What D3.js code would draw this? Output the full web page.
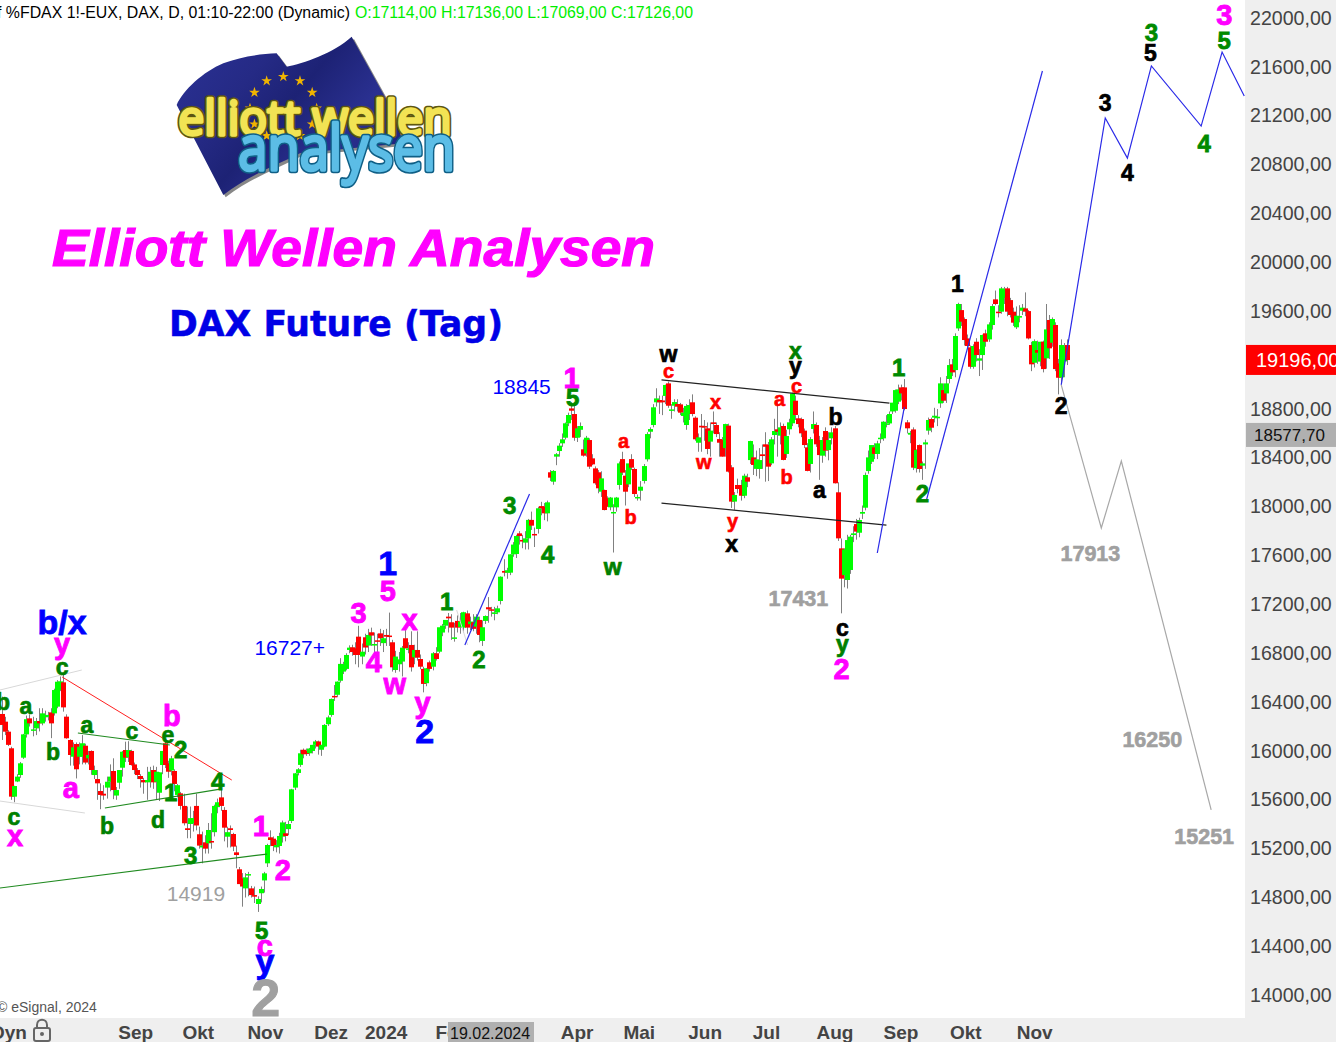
<!DOCTYPE html>
<html><head><meta charset="utf-8">
<script src="https://d3js.org/d3.v7.min.js"></script>
<style>html,body{margin:0;padding:0;background:#fff;overflow:hidden}svg{display:block}text{font-family:"Liberation Sans",Arial,sans-serif}</style>
</head><body><svg id="c" width="1336" height="1042"></svg>
<script>
// open, high, low, close per trading day
const barsAutumn2023 = [
[16293,16435,16080,16203],[16230,16270,16120,16148],[16148,16160,16030,16040],[16012,16025,15590,15616],[15616,15705,15570,15703],[15740,15800,15735,15780],[15793,15900,15770,15889],[15935,16130,15925,16126],[16126,16280,16100,16250],[16257,16290,16190,16216],
[16156,16270,16110,16167],[16175,16260,16120,16235],[16235,16340,16150,16216],[16216,16340,16200,16298],[16266,16320,16230,16285],[16271,16310,16240,16285],[16306,16340,16095,16216],[16298,16500,16280,16489],[16353,16570,16340,16557],[16490,16600,16480,16560],
[16552,16612,16312,16347],[16271,16290,16090,16094],[16080,16085,15870,15957],[15943,16060,15870,16020],[16047,16060,15765,15840],[15943,16060,15880,16025],[15943,16120,15880,16053],[16033,16050,15880,15895],[15930,15990,15880,15957],[15990,15995,15795,15834],
[15793,15870,15760,15834],[15760,15834,15590,15725],[15662,15725,15513,15630],[15640,15710,15590,15625],[15690,15780,15600,15738],[15738,15880,15660,15780],[15826,15930,15595,15670],[15625,15695,15590,15670],[15730,15790,15680,15834],[15853,15990,15780,15984],
[15998,16066,15900,15935],[15938,16070,15900,15998],[15990,16000,15870,15875],[15880,15895,15800,15834],[15834,15850,15760,15793],[15785,15800,15690,15760],[15752,15770,15640,15733],[15733,15860,15590,15752],[15738,15860,15690,15820],[15834,15870,15680,15733],
[15738,15860,15590,15820],[15648,15815,15580,15815],[15875,15990,15800,15990],[16053,16080,15850,15875],[15889,15910,15770,15820],[15830,15950,15790,15930],[15826,15840,15660,15720],[15630,15720,15610,15710],[15643,15655,15510,15540],[15540,15640,15380,15398],
[15357,15535,15275,15343],[15392,15535,15275,15440],[15400,15500,15330,15440],[15540,15640,15340,15380],[15308,15370,15190,15215],[15200,15330,15070,15215],[15242,15300,15150,15190],[15234,15400,15150,15343],[15253,15480,15190,15240],[15325,15550,15290,15540],
[15530,15600,15480,15570],[15610,15680,15500,15540],[15507,15530,15250,15362],[15288,15370,15200,15325],[15357,15380,15200,15343],[15310,15320,15170,15207],[15160,15215,15030,15138],[15021,15040,14900,14900],[14947,14990,14715,14880],[14865,14990,14790,14955],
[14970,15000,14800,14982],[14865,14885,14790,14810],[14810,14880,14745,14797],[14737,14800,14672,14778],[14825,14880,14750,14860],[14930,15000,14830,14988],[15070,15230,15040,15220],[15283,15340,15210,15261],[15272,15290,15170,15212],[15201,15260,15160,15220],
[15212,15320,15150,15294],[15288,15420,15240,15405],[15316,15410,15250,15294],[15350,15420,15300,15392],[15417,15680,15400,15676],[15690,15810,15670,15807],[15810,15850,15790,15840]];
const barsWinter2024 = [
[15876,16000,15860,15971],[16000,16010,15930,15963],[15990,16010,15950,15965],[15971,16015,15950,16010],[15990,16040,15970,16040],[16040,16080,16010,16068],[16068,16075,15960,16026],[16000,16040,15950,16040],[16026,16210,16020,16203],[16209,16280,16195,16265],
[16285,16420,16270,16416],[16441,16530,16400,16430],[16450,16560,16430,16558],[16565,16750,16550,16703],[16640,16720,16620,16700],[16662,16790,16650,16776],[16817,16855,16790,16836],[16839,16860,16770,16800],[16831,16880,16700,16776],[16926,17015,16675,16776],
[16763,16870,16700,16803],[16921,16950,16780,16837],[16853,16990,16800,16940],[16962,17000,16850,16935],[16853,16960,16790,16866],[16896,16950,16800,16885],[16953,16990,16850,16913],[16873,16980,16800,16913],[16940,16990,16850,16926],[16935,17123,16850,16930],
[16880,16900,16640,16675],[16653,16810,16630,16763],[16700,16800,16640,16740],[16722,16850,16600,16836],[16913,16990,16830,16831],[16818,16880,16790,16830],[16858,16970,16640,16675],[16757,16860,16700,16817],[16817,16970,16730,16754],[16743,16780,16660,16680],
[16662,16680,16470,16539],[16545,16670,16520,16667],[16716,16730,16640,16662],[16680,16800,16650,16790],[16790,16840,16730,16743],[16803,16990,16790,17003],[16960,17030,16930,17016],[17016,17060,16990,17063],[17090,17120,16960,17076],[17044,17110,16900,17000],
[16909,17040,16885,16920],[17055,17100,16960,17000],[17005,17120,16950,17050],[17000,17130,16960,17126],[17117,17140,16950,17000],[17028,17090,16980,17050],[17044,17110,16970,16990],[17008,17110,16950,17090],[17063,17090,16880,16940],[16891,17060,16850,17003],
[17055,17100,17030,17095],[17167,17250,17040,17150],[17150,17170,17090,17140],[17112,17170,17060,17125],[17125,17180,17110,17158],[17218,17420,17190,17417],[17464,17560,17420,17450],[17450,17490,17400,17470],[17450,17600,17430,17600],[17600,17700,17580,17680],
[17603,17760,17570,17750],[17772,17790,17680,17750],[17718,17760,17650,17705],[17696,17790,17640,17731],[17731,17890,17640,17882],[17882,17950,17800,17835],[17767,17820,17660,17760],[17808,17990,17770,17977],[17995,18030,17920,17977],[17990,18020,17880,17936],
[17936,18040,17870,18026]];
const barsSpring2024 = [
[18272,18290,18200,18228],[18195,18290,18170,18283],[18400,18430,18330,18420],[18446,18510,18400,18490],[18509,18590,18480,18542],[18555,18680,18540,18673],[18673,18760,18650,18741],[18795,18845,18700,18776],[18749,18845,18530,18555],[18555,18650,18520,18632],
[18620,18680,18560,18651],[18460,18540,18400,18408],[18427,18570,18400,18555],[18536,18550,18300,18318],[18386,18420,18330,18337],[18304,18320,18170,18182],[18272,18290,18100,18141],[18113,18280,18070,18222],[18127,18130,17960,17963],[18060,18075,17990,17990],
[17985,18070,17960,18065],[17935,18010,17615,17947],[17985,18070,17950,18065],[18168,18360,18130,18345],[18380,18440,18250,18269],[18244,18290,18000,18113],[18173,18340,18150,18345],[18380,18420,18290,18310],[18299,18310,18070,18094],[18060,18090,18040,18070],
[18121,18200,18040,18154],[18201,18340,18180,18323],[18378,18600,18360,18585],[18604,18640,18550,18626],[18659,18830,18640,18804],[18845,18960,18810,18877],[18864,18900,18750,18845],[18860,18900,18740,18845],[18897,18990,18830,18987],[19000,19015,18800,18817],
[18780,18830,18710,18787],[18817,18870,18770,18847],[18831,18870,18770,18809],[18828,18840,18740,18760],[18733,18800,18680,18760],[18659,18830,18620,18815],[18749,18870,18700,18823],[18845,18910,18730,18749],[18719,18730,18530,18542],[18514,18590,18440,18558],
[18653,18749,18440,18640],[18650,18700,18530,18640],[18632,18680,18420,18463],[18523,18680,18400,18613],[18681,18770,18590,18667],[18659,18680,18560,18585],[18544,18600,18400,18514],[18536,18560,18400,18400],[18470,18670,18400,18667],[18654,18670,18270,18277],
[18313,18330,17980,18032],[18032,18110,17965,18086],[18168,18220,18100,18135],[18168,18210,18040,18080],[18080,18260,18060,18244],[18231,18260,18150,18195],[18372,18530,18340,18528],[18394,18500,18250,18332],[18300,18450,18240,18378],[18299,18470,18220,18372],
[18419,18500,18300,18405],[18501,18600,18195,18481],[18495,18520,18200,18318],[18345,18560,18330,18542],[18577,18710,18500,18610],[18624,18850,18400,18604],[18572,18680,18500,18640],[18651,18670,18370,18373],[18422,18620,18390,18569],[18624,18710,18580,18681],
[18673,18925,18650,18918],[18858,18900,18700,18741],[18714,18740,18640,18667],[18708,18720,18560,18591],[18613,18630,18470,18495],[18476,18510,18280,18283],[18340,18560,18270,18544],[18627,18770,18590,18667],[18659,18680,18480,18501],[18536,18570,18210,18413],
[18408,18560,18350,18536],[18610,18640,18400,18449],[18454,18600,18370,18536],[18550,18640,18500,18599],[18632,18650,18180,18182]];
const barsAutumn2024 = [
[18108,18190,17710,17731],[17649,17730,17117,17401],[17430,17650,17330,17640],[17390,17760,17320,17717],[17472,17760,17440,17745],[17758,17830,17700,17772],[17848,17890,17720,17786],[17777,17900,17740,17881],[17933,18000,17890,17947],[17982,18270,17960,18250],
[18282,18450,18260,18394],[18358,18490,18340,18495],[18476,18510,18380,18422],[18422,18530,18380,18509],[18545,18590,18510,18555],[18550,18690,18530,18686],[18667,18740,18640,18672],[18672,18770,18660,18749],[18770,18840,18750,18842],[18776,18950,18760,18945],
[18850,18990,18830,18951],[18967,18990,18860,18918],[18967,19035,18780,18790],[18681,18700,18590,18632],[18580,18610,18510,18595],[18623,18640,18290,18310],[18305,18460,18270,18454],[18495,18500,18270,18299],[18326,18360,18210,18345],[18500,18540,18300,18517],
[18613,18720,18580,18700],[18708,18720,18600,18637],[18720,18800,18680,18735],[18714,18790,18650,18727],[18836,19050,18800,19000],[18945,19000,18840,18858],[18918,19060,18840,19000],[19036,19200,19000,19150],[19156,19200,19060,19090],[19109,19410,19050,19388],
[19450,19660,19430,19650],[19600,19650,19470,19505],[19527,19540,19310,19355],[19368,19400,19280,19306],[19295,19310,19120,19136],[19136,19320,19120,19306],[19341,19370,19180,19232],[19186,19280,19060,19205],[19232,19400,19110,19396],[19410,19440,19300,19341],
[19360,19500,19340,19483],[19478,19650,19440,19633],[19688,19760,19640,19650],[19587,19640,19540,19580],[19587,19790,19570,19778],[19700,19790,19650,19770],[19778,19790,19550,19587],[19682,19700,19540,19560],[19587,19620,19470,19497],[19459,19630,19445,19554],
[19543,19640,19500,19551],[19595,19650,19560,19620],[19614,19745,19550,19587],[19592,19600,19360,19368],[19314,19340,19100,19156],[19169,19360,19130,19346],[19273,19350,19160,19251],[19178,19340,19140,19341],[19341,19350,19090,19117],[19205,19650,19120,19442],
[19519,19560,19200,19287],[19333,19540,19300,19527],[19478,19500,19100,19117],[19164,19200,18910,19046],[19049,19360,19000,19314],[19180,19330,19050,19300],[19314,19360,19150,19191]];
// time position of the first and last candle of each block above, in chart-bar units
const blockSpans = [[0,97.5],[98.2,179.6],[180.5,274.4],[275.4,351]];

const priceTicks = [22000,21600,21200,20800,20400,20000,19600,19200,18800,18400,18000,17600,17200,16800,16400,16000,15600,15200,14800,14400,14000];
const monthLabels = ["Sep","Okt","Nov","Dez","2024","Feb","Mär","Apr","Mai","Jun","Jul","Aug","Sep","Okt","Nov"];
const monthBars = [44,64.6,86.7,108.4,126.5,148.3,169.4,189.4,209.9,231.6,251.8,274.4,296.1,317.5,340.2];
const lastPrice = 19196, refPrice = 18577.7;

// wave labels: text, bar number, price
const labelsBlueLarge = [["b/x",19.9,17046],["1",127.2,17529],["2",139.4,16154],["y",86.7,14270]];
const labelsMagenta = [["y",19.9,16870],["a",22.8,15687],["b",56.1,16276],["x",4.4,15294],["1",85.4,15376],["2",92.6,15015],["c",86.7,14393],["3",117.6,17120],["4",122.6,16719],["w",129.5,16538],["5",127.2,17300],["x",134.4,17062],["y",138.7,16386],["1",187.8,19044],["2",276.7,16661],["3",402.8,22016]];
const labelsGreenLetter = [["c",19.9,16678],["b",0.4,16391],["a",8,16358],["b",16.9,15982],["a",28.1,16203],["c",42.9,16154],["e",54.8,16121],["b",34.7,15376],["d",51.5,15425],["c",4,15449],["w",201.3,17500],["x",261.5,19265],["y",277,16865]];
const labelsGreenNum = [["2",59,16006],["1",55.7,15646],["4",71.2,15744],["3",62.3,15130],["5",85.7,14524],["1",146.6,17218],["2",157.2,16743],["3",167.4,18004],["4",179.9,17595],["5",188.1,18888],["1",295.5,19134],["2",303.4,18102],["3",378.8,21877],["4",396.2,20968],["5",402.8,21811]];
const labelsRed = [["c",219.7,19101],["a",204.9,18528],["b",207.2,17906],["x",235.2,18847],["w",231.3,18356],["a",256.3,18872],["b",258.6,18233],["c",261.9,18978],["y",240.8,17870]];
const labelsBlack = [["w",219.7,19240],["y",261.5,19140],["b",274.7,18725],["a",269.4,18127],["x",240.5,17685],["c",277,16997],["1",314.9,19814],["2",349.1,18815],["3",363.6,21296],["4",370.9,20722],["5",378.5,21705]];
const labelsGrayBold = [["17431",262.5,17234],["17913",358.7,17603],["16250",379.1,16080],["15251",396.2,15286]];
const labelsGrayPlain = [["14919",64,14827]];
const labelsBluePlain = [["16727+",94.9,16841],["18845",171.3,18978]];
const labelsGrayHuge = [["2",87,13967]];

// trend lines and projected paths: [bar, price] vertices
const linesRed = [[[19.9,16596],[75.8,15752]]];
const linesGreen = [[[25.1,16137],[55.4,16039]],[[34,15523],[72.5,15679]],[[-0.6,14868],[87.4,15146]]];
const linesLight = [[[-0.6,16489],[26.4,16653]],[[-0.6,15580],[27.4,15482]],[[149.9,17144],[153.5,16858]]];
const linesBlack = [[[217.4,19028],[292.5,18839]],[[217.4,18020],[291.5,17840]]];
const linesBlue = [[[152.6,16858],[173.9,18094]],[[288.5,17611],[297.4,18806]],[[304.7,18045],[342.9,21558]],
 [[349.1,18987],[363.6,21173],[370.9,20845],[378.8,21599],[395.2,21107],[402.1,21713],[409.4,21353]]];
const linesGray = [[[349.1,18987],[362.3,17816],[368.9,18364],[398.5,15507]]];

const blocks = [barsAutumn2023, barsWinter2024, barsSpring2024, barsAutumn2024];
const bars = [].concat(...blocks).map(r=>({o:r[0],h:r[1],l:r[2],c:r[3]}));
const x = d3.scaleLinear().domain([0,351]).range([1.7,1067]);
// candle number -> chart-bar units, block by block
let run=0; const sd=[],sr=[];
blocks.forEach((b,k)=>{sd.push(run,run+b.length-1);sr.push(blockSpans[k][0],blockSpans[k][1]);run+=b.length;});
const slot = d3.scaleLinear().domain(sd).range(sr);
const y = d3.scaleLinear().domain([14000,22000]).range([994,17]);
const svg = d3.select("#c");
const W=1245,H=1018;
const fmt = v=>d3.format(".2f")(v).replace(".",",");

svg.append("rect").attr("width",1336).attr("height",1042).attr("fill","#fff");
const defs = svg.append("defs");
defs.append("clipPath").attr("id","plot").append("rect").attr("width",W).attr("height",H);
const flagGrad = defs.append("linearGradient").attr("id","flag").attr("x1","0").attr("y1","0").attr("x2","1").attr("y2","0.6");
[[0,"#2b3296"],[0.35,"#252a85"],[0.55,"#1d2275"],[0.8,"#2a3090"],[1,"#222780"]].forEach(s=>flagGrad.append("stop").attr("offset",s[0]).attr("stop-color",s[1]));
const blur = defs.append("filter").attr("id","soft").attr("x","-10%").attr("y","-10%").attr("width","120%").attr("height","120%");
blur.append("feGaussianBlur").attr("stdDeviation",1.3);

const plot = svg.append("g").attr("clip-path","url(#plot)");

// logo (flag + wordmark)
const logo = plot.append("g").attr("transform","translate(160,30) scale(0.3333)");
const flagPath = "M50,225 C70,180 130,125 190,100 C240,80 300,72 350,70 L380,110 C430,100 520,70 575,20 L680,210 L700,250 L730,340 L420,370 C340,410 260,440 190,495 Z";
logo.append("path").attr("d",flagPath).attr("fill","#555").attr("transform","translate(7,7)").attr("filter","url(#soft)").attr("opacity",.7);
logo.append("path").attr("d",flagPath).attr("fill","url(#flag)");
d3.range(12).forEach(i=>{
  const a=i*Math.PI/6, cx=370+100*Math.sin(a), cy=235-95*Math.cos(a);
  const star=d3.symbol().type(d3.symbolStar).size(320)();
  logo.append("path").attr("d",star).attr("transform",`translate(${cx},${cy})`).attr("fill","#f0b400");
});
const word=(t,xx,yy,len,fs,fill,dark)=>{
  [[dark,20],[fill,10]].forEach(s=>logo.append("text").text(t).attr("x",xx).attr("y",yy).attr("textLength",len).attr("lengthAdjust","spacingAndGlyphs")
   .attr("font-size",fs).attr("fill",s[0]).attr("stroke",s[0]).attr("stroke-width",s[1]).attr("stroke-linejoin","round").style("font-family","'Open Sans',sans-serif"));
};
word("elliott wellen",55,315,820,140,"#f2e354","#5e5610");
word("analysen",235,420,650,185,"#5cbde6","#0f5f86");

// titles
plot.append("text").text("Elliott Wellen Analysen").attr("x",52).attr("y",266).attr("font-size",51).attr("font-weight","bold").attr("font-style","italic").attr("fill","#ff00ff").attr("stroke","#ff00ff").attr("stroke-width",1.2).attr("textLength",603).attr("lengthAdjust","spacingAndGlyphs");
plot.append("text").text("DAX Future (Tag)").attr("x",169).attr("y",336).attr("font-size",36).attr("font-weight","bold").attr("fill","#0000e6").attr("stroke","#0000e6").attr("stroke-width",.5).attr("textLength",334).attr("lengthAdjust","spacingAndGlyphs").style("font-family","'DejaVu Sans',sans-serif");

// header
plot.append("text").text("f %FDAX 1!-EUX, DAX, D, 01:10-22:00 (Dynamic)").attr("y",18).attr("x",-3).attr("font-size",16).attr("fill","#000").attr("textLength",353).attr("lengthAdjust","spacingAndGlyphs");
plot.append("text").text("O:17114,00 H:17136,00 L:17069,00 C:17126,00").attr("x",355).attr("y",18).attr("font-size",16).attr("fill","#00ee00").attr("textLength",338).attr("lengthAdjust","spacingAndGlyphs");
plot.append("text").text("© eSignal, 2024").attr("x",-3).attr("y",1012).attr("font-size",14).attr("fill","#555");

// candles
const cg = plot.append("g").selectAll("g").data(bars).join("g");
const cx = (d,i)=>Math.round(x(slot(i)));
cg.append("line").attr("x1",cx).attr("x2",cx).attr("y1",d=>y(d.h)).attr("y2",d=>y(d.l)).attr("stroke","#808080").attr("stroke-width",1).attr("transform","translate(.5,0)");
cg.append("rect").attr("x",(d,i)=>cx(d,i)-2).attr("width",5)
 .attr("y",d=>y(Math.max(d.o,d.c))).attr("height",d=>Math.max(1.5,Math.abs(y(d.o)-y(d.c))))
 .attr("fill",d=>d.c>=d.o?"#00ff00":"#ff0000");

// lines
const ln = d3.line().x(d=>x(d[0])).y(d=>y(d[1]));
const drawLines=(set,col,w)=>plot.append("g").selectAll("path").data(set).join("path").attr("d",ln).attr("fill","none").attr("stroke",col).attr("stroke-width",w);
drawLines(linesLight,"#d8d8d8",1);
drawLines(linesRed,"#ff2020",1);
drawLines(linesGreen,"#208a20",1.2);
drawLines(linesBlack,"#222",1.2);
drawLines(linesBlue,"#2a2ae8",1.2);
drawLines(linesGray,"#a8a8a8",1.2);

// wave labels
const drawLabels=(set,col,size,weight,st)=>plot.append("g").selectAll("text").data(set).join("text").text(d=>d[0])
 .attr("x",d=>x(d[1])).attr("y",d=>y(d[2])).attr("text-anchor","middle").attr("dominant-baseline","central")
 .attr("font-size",size).attr("font-weight",weight).attr("fill",col).attr("stroke",st?col:"none").attr("stroke-width",st||0);
drawLabels(labelsBlueLarge,"#0000ff",34,"bold",.8);
drawLabels(labelsMagenta,"#ff00ff",29,"bold",.9);
drawLabels(labelsGreenLetter,"#008000",23,"bold",.7);
drawLabels(labelsGreenNum,"#008a00",24,"bold",.8);
drawLabels(labelsRed,"#ff0000",20,"bold",.6);
drawLabels(labelsBlack,"#000",23,"bold",.7);
drawLabels(labelsGrayBold,"#a0a0a0",21.5,"bold",.6);
drawLabels(labelsGrayPlain,"#a0a0a0",21,"normal",0);
drawLabels(labelsBluePlain,"#0000ff",21,"normal",0);
drawLabels(labelsGrayHuge,"#a0a0a0",52,"bold",1);

// price panel and axis
svg.append("rect").attr("x",W).attr("y",0).attr("width",1336-W).attr("height",1042).attr("fill","#efefef");
svg.append("rect").attr("x",0).attr("y",H).attr("width",1336).attr("height",24).attr("fill","#efefef");
const yAxis = svg.append("g").attr("transform",`translate(${W},1)`).call(d3.axisRight(y).tickValues(priceTicks).tickFormat(fmt).tickSize(0).tickPadding(5));
yAxis.select(".domain").remove();
yAxis.selectAll("text").attr("font-size",19.6).attr("fill","#444").style("font-family",'"Liberation Sans",Arial,sans-serif');

svg.append("rect").attr("x",1246).attr("y",y(lastPrice)-14.5).attr("width",90).attr("height",30).attr("fill","#ff0000");
svg.append("text").text(fmt(lastPrice)).attr("x",1256).attr("y",y(lastPrice)+8).attr("font-size",20).attr("fill","#fff");
svg.append("rect").attr("x",1246).attr("y",y(refPrice)-12).attr("width",90).attr("height",24).attr("fill","#b0b0b0");
svg.append("text").text(fmt(refPrice)).attr("x",1254).attr("y",y(refPrice)+6.5).attr("font-size",17).attr("fill","#111");

// time axis
const xAxis = svg.append("g").attr("transform",`translate(0,${H+1})`).call(d3.axisBottom(x).tickValues(monthBars).tickFormat((d,i)=>monthLabels[i]).tickSize(0).tickPadding(7));
xAxis.select(".domain").remove();
xAxis.selectAll("text").attr("font-size",19).attr("font-weight","bold").attr("fill","#444").style("font-family",'"Liberation Sans",Arial,sans-serif');
svg.append("text").text("Dyn").attr("x",-9).attr("y",1039).attr("font-size",19).attr("font-weight","bold").attr("fill","#444");
const lock = svg.append("g").attr("transform","translate(33,1019)").attr("fill","none").attr("stroke","#666");
lock.append("rect").attr("x",1).attr("y",9).attr("width",16).attr("height",13).attr("rx",2).attr("stroke-width",2);
lock.append("path").attr("d","M4,9 V6 C4,-1 14,-1 14,6 V9").attr("stroke-width",2);
lock.append("circle").attr("cx",9).attr("cy",15).attr("r",2).attr("fill","#666").attr("stroke","none");
svg.append("rect").attr("x",448).attr("y",1022).attr("width",86).attr("height",20).attr("fill","#b0b0b0");
svg.append("text").text("19.02.2024").attr("x",450).attr("y",1039).attr("font-size",16).attr("fill","#111");
</script></body></html>
